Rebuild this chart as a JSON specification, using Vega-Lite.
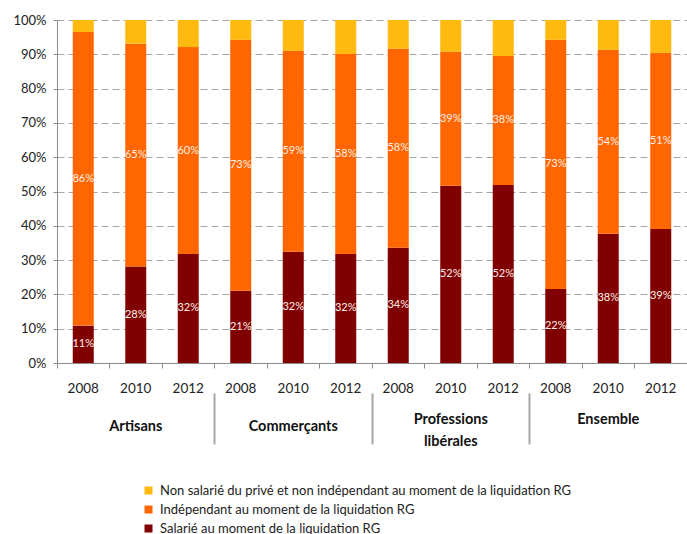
{
  "$schema": "https://vega.github.io/schema/vega-lite/v6.json",
  "width": 630,
  "height": 343,
  "autosize": {"type": "none"},
  "padding": {"left": 57, "top": 20, "right": 0, "bottom": 171},
  "background": "white",
  "config": {
    "view": {"stroke": null},
    "font": "Lato",
    "axis": {"labelFont": "Lato", "labelColor": "#222222"},
    "axisY": {
      "title": null,
      "format": ".0%",
      "values": [0, 0.1, 0.2, 0.3, 0.4, 0.5, 0.6, 0.7, 0.8, 0.9, 1],
      "labelOverlap": false,
      "labelFontSize": 13,
      "labelPadding": 7,
      "tickSize": 4,
      "tickColor": "#8c8c8c",
      "domainColor": "#8c8c8c",
      "grid": true,
      "gridColor": "#a6a6a6",
      "gridDash": [7, 4],
      "gridWidth": 1
    }
  },
  "data": {
    "values": [
      {"barre": "Artisans 2008", "groupe": "Artisans", "statut": "Salarié au moment de la liquidation RG", "rang": 1, "part": 0.109},
      {"barre": "Artisans 2008", "groupe": "Artisans", "statut": "Indépendant au moment de la liquidation RG", "rang": 2, "part": 0.856},
      {"barre": "Artisans 2008", "groupe": "Artisans", "statut": "Non salarié du privé et non indépendant au moment de la liquidation RG", "rang": 3, "part": 0.035},
      {"barre": "Artisans 2010", "groupe": "Artisans", "statut": "Salarié au moment de la liquidation RG", "rang": 1, "part": 0.281},
      {"barre": "Artisans 2010", "groupe": "Artisans", "statut": "Indépendant au moment de la liquidation RG", "rang": 2, "part": 0.650},
      {"barre": "Artisans 2010", "groupe": "Artisans", "statut": "Non salarié du privé et non indépendant au moment de la liquidation RG", "rang": 3, "part": 0.069},
      {"barre": "Artisans 2012", "groupe": "Artisans", "statut": "Salarié au moment de la liquidation RG", "rang": 1, "part": 0.318},
      {"barre": "Artisans 2012", "groupe": "Artisans", "statut": "Indépendant au moment de la liquidation RG", "rang": 2, "part": 0.603},
      {"barre": "Artisans 2012", "groupe": "Artisans", "statut": "Non salarié du privé et non indépendant au moment de la liquidation RG", "rang": 3, "part": 0.079},
      {"barre": "Commerçants 2008", "groupe": "Commerçants", "statut": "Salarié au moment de la liquidation RG", "rang": 1, "part": 0.211},
      {"barre": "Commerçants 2008", "groupe": "Commerçants", "statut": "Indépendant au moment de la liquidation RG", "rang": 2, "part": 0.731},
      {"barre": "Commerçants 2008", "groupe": "Commerçants", "statut": "Non salarié du privé et non indépendant au moment de la liquidation RG", "rang": 3, "part": 0.058},
      {"barre": "Commerçants 2010", "groupe": "Commerçants", "statut": "Salarié au moment de la liquidation RG", "rang": 1, "part": 0.324},
      {"barre": "Commerçants 2010", "groupe": "Commerçants", "statut": "Indépendant au moment de la liquidation RG", "rang": 2, "part": 0.586},
      {"barre": "Commerçants 2010", "groupe": "Commerçants", "statut": "Non salarié du privé et non indépendant au moment de la liquidation RG", "rang": 3, "part": 0.090},
      {"barre": "Commerçants 2012", "groupe": "Commerçants", "statut": "Salarié au moment de la liquidation RG", "rang": 1, "part": 0.318},
      {"barre": "Commerçants 2012", "groupe": "Commerçants", "statut": "Indépendant au moment de la liquidation RG", "rang": 2, "part": 0.583},
      {"barre": "Commerçants 2012", "groupe": "Commerçants", "statut": "Non salarié du privé et non indépendant au moment de la liquidation RG", "rang": 3, "part": 0.099},
      {"barre": "Professions libérales 2008", "groupe": "Professions libérales", "statut": "Salarié au moment de la liquidation RG", "rang": 1, "part": 0.336},
      {"barre": "Professions libérales 2008", "groupe": "Professions libérales", "statut": "Indépendant au moment de la liquidation RG", "rang": 2, "part": 0.580},
      {"barre": "Professions libérales 2008", "groupe": "Professions libérales", "statut": "Non salarié du privé et non indépendant au moment de la liquidation RG", "rang": 3, "part": 0.084},
      {"barre": "Professions libérales 2010", "groupe": "Professions libérales", "statut": "Salarié au moment de la liquidation RG", "rang": 1, "part": 0.517},
      {"barre": "Professions libérales 2010", "groupe": "Professions libérales", "statut": "Indépendant au moment de la liquidation RG", "rang": 2, "part": 0.390},
      {"barre": "Professions libérales 2010", "groupe": "Professions libérales", "statut": "Non salarié du privé et non indépendant au moment de la liquidation RG", "rang": 3, "part": 0.093},
      {"barre": "Professions libérales 2012", "groupe": "Professions libérales", "statut": "Salarié au moment de la liquidation RG", "rang": 1, "part": 0.519},
      {"barre": "Professions libérales 2012", "groupe": "Professions libérales", "statut": "Indépendant au moment de la liquidation RG", "rang": 2, "part": 0.376},
      {"barre": "Professions libérales 2012", "groupe": "Professions libérales", "statut": "Non salarié du privé et non indépendant au moment de la liquidation RG", "rang": 3, "part": 0.105},
      {"barre": "Ensemble 2008", "groupe": "Ensemble", "statut": "Salarié au moment de la liquidation RG", "rang": 1, "part": 0.216},
      {"barre": "Ensemble 2008", "groupe": "Ensemble", "statut": "Indépendant au moment de la liquidation RG", "rang": 2, "part": 0.726},
      {"barre": "Ensemble 2008", "groupe": "Ensemble", "statut": "Non salarié du privé et non indépendant au moment de la liquidation RG", "rang": 3, "part": 0.058},
      {"barre": "Ensemble 2010", "groupe": "Ensemble", "statut": "Salarié au moment de la liquidation RG", "rang": 1, "part": 0.377},
      {"barre": "Ensemble 2010", "groupe": "Ensemble", "statut": "Indépendant au moment de la liquidation RG", "rang": 2, "part": 0.536},
      {"barre": "Ensemble 2010", "groupe": "Ensemble", "statut": "Non salarié du privé et non indépendant au moment de la liquidation RG", "rang": 3, "part": 0.087},
      {"barre": "Ensemble 2012", "groupe": "Ensemble", "statut": "Salarié au moment de la liquidation RG", "rang": 1, "part": 0.391},
      {"barre": "Ensemble 2012", "groupe": "Ensemble", "statut": "Indépendant au moment de la liquidation RG", "rang": 2, "part": 0.513},
      {"barre": "Ensemble 2012", "groupe": "Ensemble", "statut": "Non salarié du privé et non indépendant au moment de la liquidation RG", "rang": 3, "part": 0.096}
    ]
  },
  "layer": [
    {
      "mark": {"type": "bar"},
      "encoding": {
        "x": {
          "field": "barre", "type": "nominal", "sort": null,
          "scale": {"paddingInner": 0.6, "paddingOuter": 0.3},
          "axis": {
            "title": null,
            "labelExpr": "slice(datum.value, -4)",
            "labelAngle": 0,
            "labelFontSize": 13.5,
            "labelPadding": 18,
            "ticks": false,
            "domain": false,
            "grid": false
          }
        },
        "y": {
          "field": "part", "type": "quantitative", "stack": "zero",
          "scale": {"domain": [0, 1], "nice": false}
        },
        "color": {
          "field": "statut", "type": "nominal",
          "scale": {
            "domain": [
              "Non salarié du privé et non indépendant au moment de la liquidation RG",
              "Indépendant au moment de la liquidation RG",
              "Salarié au moment de la liquidation RG"
            ],
            "range": ["#FFB90F", "#FF6600", "#800000"]
          },
          "legend": {
            "title": null,
            "orient": "none",
            "legendX": 85,
            "legendY": 464,
            "direction": "vertical",
            "symbolType": "square",
            "symbolSize": 64,
            "symbolStrokeWidth": 0,
            "labelFont": "Lato",
            "labelFontSize": 13,
            "labelColor": "#222222",
            "labelOffset": 5,
            "rowPadding": 5,
            "labelLimit": 600
          }
        },
        "order": {"field": "rang", "type": "quantitative"}
      }
    },
    {
      "transform": [{"filter": "datum.rang < 3"}],
      "mark": {"type": "text", "fontSize": 11, "color": "#FFF0EA", "font": "Lato"},
      "encoding": {
        "x": {"field": "barre", "type": "nominal", "sort": null, "scale": {"paddingInner": 0.6, "paddingOuter": 0.3}, "axis": null},
        "y": {"field": "part", "type": "quantitative", "stack": "zero", "bandPosition": 0.5},
        "text": {"field": "part", "type": "quantitative", "format": ".0%"},
        "order": {"field": "rang", "type": "quantitative"}
      }
    },
    {
      "mark": {"type": "rule", "opacity": 0},
      "encoding": {
        "x": {
          "field": "barre", "type": "nominal", "sort": null,
          "scale": {"paddingInner": 0, "paddingOuter": 0},
          "axis": {
            "title": null,
            "orient": "bottom",
            "labels": false,
            "bandPosition": 0,
            "tickSize": 5,
            "tickColor": "#8c8c8c",
            "domainColor": "#8c8c8c",
            "grid": false
          }
        }
      }
    },
    {
      "mark": {"type": "rule", "opacity": 0},
      "encoding": {
        "x": {
          "field": "groupe", "type": "nominal", "sort": null,
          "scale": {"paddingInner": 0, "paddingOuter": 0},
          "axis": {
            "title": null,
            "orient": "bottom",
            "offset": 30,
            "domain": false,
            "labelAngle": 0,
            "labelFontSize": 14.5,
            "labelFontWeight": "bold",
            "labelColor": "#111111",
            "labelBaseline": {"condition": {"test": "datum.value === 'Artisans' || datum.value === 'Commerçants'", "value": "top"}, "value": "middle"},
            "labelLineHeight": 22,
            "labelPadding": -25,
            "labelOverlap": false,
            "labelExpr": "datum.value === 'Professions libérales' ? ['Professions', 'libérales'] : datum.value",
            "bandPosition": 0,
            "tickSize": 51,
            "tickWidth": 2,
            "tickColor": "#a6a6a6",
            "tickOpacity": {"condition": {"test": "datum.value === 'Artisans'", "value": 0}, "value": 1},
            "grid": false
          }
        }
      }
    }
  ],
  "resolve": {"scale": {"x": "independent"}, "axis": {"x": "independent"}}
}
